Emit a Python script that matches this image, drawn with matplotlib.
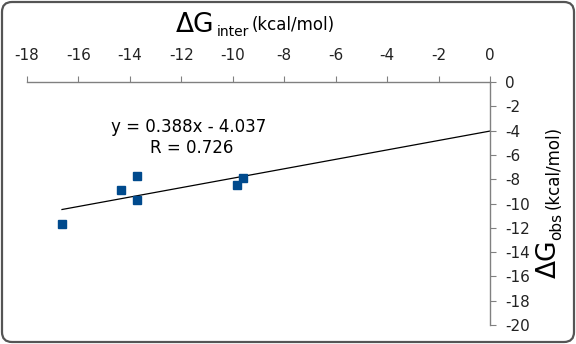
import numpy as np
import matplotlib.pyplot as plt
from matplotlib.patches import FancyBboxPatch

plt.rcParams['axes.unicode_minus'] = False
plt.rcParams['font.family'] = ['DejaVu Sans']

# data
dg_inter = [-16.64, -14.35, -13.73, -13.73, -9.84, -9.60]
dg_obs = [-11.69, -8.89, -7.74, -9.71, -8.48, -7.90]
slope, intercept = 0.388, -4.037
x_ticks = list(range(-18, 1, 2))
y_ticks = list(range(-20, 1, 2))

fig = plt.figure(figsize=(5.76, 3.44), dpi=100)

# rounded frame around the whole chart
frame = FancyBboxPatch((0.02, 0.02), 5.72, 3.40, boxstyle="round,pad=0,rounding_size=0.1",
                       transform=fig.dpi_scale_trans, fill=False, ec="#555555", lw=1.6)
fig.patches.append(frame)

ax = fig.add_axes([0.0469, 0.0552, 0.8038, 0.7064])
ax.set_xlim(-18, 0)
ax.set_ylim(-20, 0)
ax.set_facecolor("none")

for s in ["left", "bottom"]:
    ax.spines[s].set_visible(False)
for s in ["top", "right"]:
    ax.spines[s].set_color("#808080")
    ax.spines[s].set_linewidth(1.0)

ax.xaxis.tick_top()
ax.yaxis.tick_right()
ax.set_xticks(x_ticks)
ax.set_yticks(y_ticks)
ax.tick_params(axis="x", direction="out", length=4, color="#808080", pad=10, labelsize=11, labelcolor="#222222")
ax.tick_params(axis="y", direction="out", length=4, color="#808080", pad=7, labelsize=11, labelcolor="#222222")

# trendline from the smallest x to the axis at 0
xl = np.array([min(dg_inter), 0])
ax.plot(xl, slope * xl + intercept, color="black", lw=0.9, clip_on=False)
ax.plot(dg_inter, dg_obs, ls="none", marker="s", ms=6, color="#004A8D", clip_on=False)

ax.text(-11.7, -3.7, "y = 0.388x - 4.037", ha="center", va="center", fontsize=12)
ax.text(-11.6, -5.45, "R = 0.726", ha="center", va="center", fontsize=12)

# top axis title
fig.text(176 / 576, 1 - 32 / 344, "ΔG", fontsize=19, ha="left", va="baseline")
fig.text(217 / 576, 1 - 36 / 344, "inter", fontsize=10, ha="left", va="baseline")
fig.text(252 / 576, 1 - 30 / 344, "(kcal/mol)", fontsize=12, ha="left", va="baseline")

# right axis title
fig.text(556 / 576, 1 - 278 / 344, "ΔG", fontsize=19, rotation=90,
         rotation_mode="anchor", ha="left", va="baseline")
fig.text(561 / 576, 1 - 240 / 344, "obs", fontsize=11, rotation=90,
         rotation_mode="anchor", ha="left", va="baseline")
fig.text(559 / 576, 1 - 209 / 344, "(kcal/mol)", fontsize=12, rotation=90,
         rotation_mode="anchor", ha="left", va="baseline")

fig.savefig("out.png", dpi=100)
